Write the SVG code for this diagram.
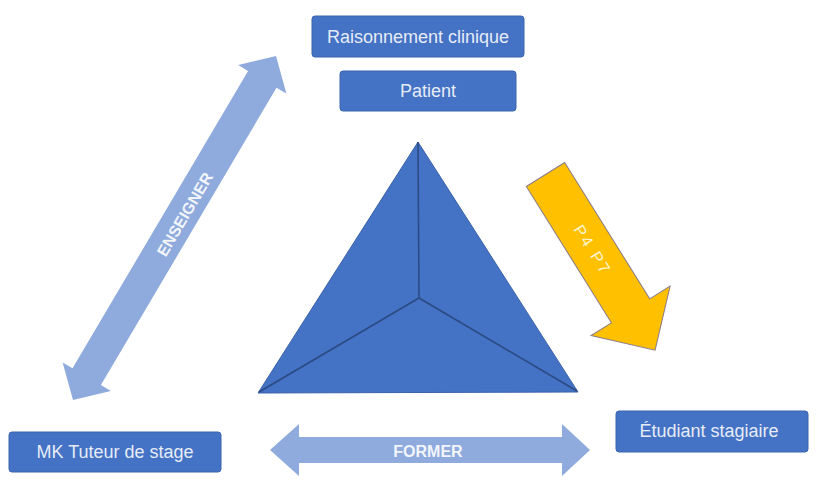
<svg xmlns="http://www.w3.org/2000/svg" width="816" height="480" viewBox="0 0 816 480">
  <style>
    .box { fill: #4472C4; stroke: #3b64ad; stroke-width: 1; }
    .boxtxt { font-family: "Liberation Sans", Arial, sans-serif; font-size: 18px; fill: #e6ecf7; text-anchor: middle; }
    .dbl { fill: #8FAADC; }
    .arrtxt { font-family: "Liberation Sans", Arial, sans-serif; font-weight: bold; fill: #f2f5fb; text-anchor: middle; dominant-baseline: central; }
    .inner { stroke: #2a4a82; stroke-width: 1.5; fill: none; }
  </style>
  <rect width="816" height="480" fill="#ffffff"/>

  <g id="connectors">
    <g id="arrow-enseigner" transform="translate(174.5,228) rotate(-59.45)">
      <polygon class="dbl" points="-199.7,0 -172.7,-28 -172.7,-16.5 172.7,-16.5 172.7,-28 199.7,0 172.7,28 172.7,16.5 -172.7,16.5 -172.7,28"/>
      <text class="arrtxt" x="17" y="2" font-size="16">ENSEIGNER</text>
    </g>
    <g id="arrow-former">
      <polygon class="dbl" points="270,450 299,424 299,437 562,437 562,424 590,450 562,476 562,463 299,463 299,476"/>
      <text class="arrtxt" x="428" y="451" font-size="16">FORMER</text>
    </g>
    <g id="arrow-p4p7" transform="translate(545.5,174.5) rotate(58.04)">
      <polygon points="0,-22.6 160.7,-22.6 160.7,-46.6 207,0 160.7,46.6 160.7,22.6 0,22.6" fill="#FFC000" stroke="#8a7a86" stroke-width="1"/>
      <text x="89" y="0" font-family="Liberation Sans, Arial, sans-serif" font-size="16" fill="#fff4d0" text-anchor="middle" dominant-baseline="central" letter-spacing="2.5">P4 P7</text>
    </g>
  </g>

  <g id="triangle">
    <polygon points="418,142 578,392 258,393" fill="#4472C4" stroke="#3a62a8" stroke-width="1"/>
    <line class="inner" x1="419" y1="298" x2="418" y2="142"/>
    <line class="inner" x1="419" y1="298" x2="259" y2="392"/>
    <line class="inner" x1="419" y1="298" x2="577" y2="391"/>
  </g>

  <g id="node-raisonnement">
    <rect class="box" x="312" y="16" width="212" height="41" rx="3"/>
    <text class="boxtxt" x="418" y="43">Raisonnement clinique</text>
  </g>
  <g id="node-patient">
    <rect class="box" x="340" y="71" width="176" height="40" rx="3"/>
    <text class="boxtxt" x="428" y="97">Patient</text>
  </g>
  <g id="node-mk">
    <rect class="box" x="9" y="432" width="212" height="40" rx="3"/>
    <text class="boxtxt" x="115" y="458">MK Tuteur de stage</text>
  </g>
  <g id="node-etudiant">
    <rect class="box" x="616" y="411" width="192" height="41" rx="3"/>
    <text class="boxtxt" x="709" y="437">Étudiant stagiaire</text>
  </g>
</svg>
